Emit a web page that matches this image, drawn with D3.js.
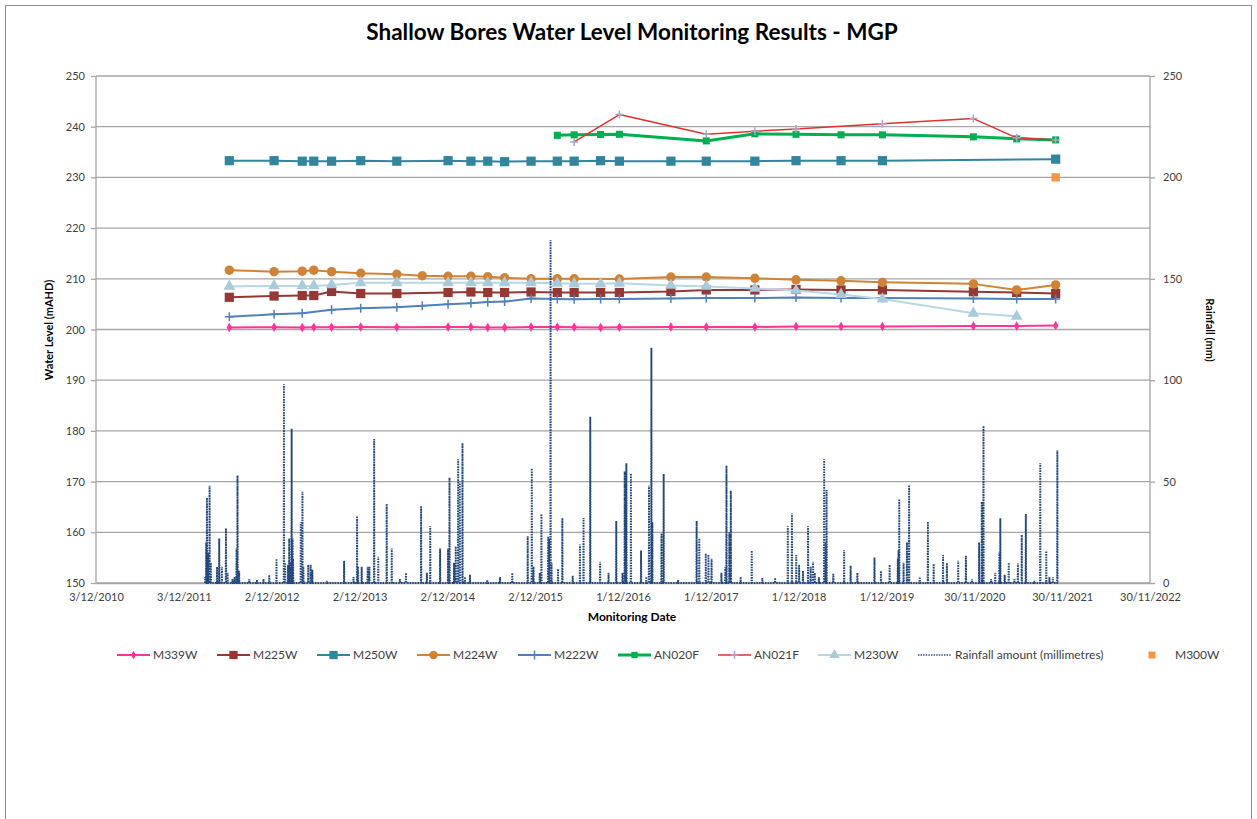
<!DOCTYPE html>
<html><head><meta charset="utf-8">
<script src="https://cdn.jsdelivr.net/npm/d3@7"></script>
<style>body{margin:0;background:#fff;} svg{display:block;font-family:Lato,"Open Sans",sans-serif;}</style>
</head><body><svg id="c" width="1257" height="819"></svg>
<script>
// ---------- DATA ----------
const sampleDates = ["2012-06-09","2012-12-12","2013-04-08","2013-05-26","2013-08-08","2013-12-07","2014-05-06","2014-08-20","2014-12-05","2015-03-10","2015-05-19","2015-07-28","2015-11-15","2016-03-03","2016-05-12","2016-08-30","2016-11-16","2017-06-18","2017-11-12","2018-06-02","2018-11-20","2019-05-26","2019-11-14","2020-11-26","2021-05-25","2021-11-03"];
const M339W = [200.4,200.45,200.4,200.45,200.45,200.5,200.45,null,200.5,200.5,200.4,200.4,200.5,200.5,200.45,200.4,200.45,200.5,200.5,200.5,200.6,200.6,200.6,200.7,200.7,200.8];
const M225W = [206.35,206.6,206.7,206.7,207.5,207.1,207.1,null,207.3,207.4,207.3,207.3,207.4,207.3,207.3,207.3,207.3,207.5,207.8,207.8,207.9,207.8,207.8,207.45,207.3,207.1];
const M250W = [233.3,233.3,233.2,233.2,233.2,233.3,233.2,null,233.3,233.2,233.2,233.1,233.2,233.2,233.2,233.3,233.2,233.2,233.2,233.2,233.3,233.3,233.3,null,null,233.6];
const M224W = [211.7,211.4,211.5,211.7,211.4,211.1,210.9,210.6,210.5,210.5,210.4,210.2,210.0,210.0,210.0,null,209.95,210.35,210.35,210.1,209.8,209.6,209.3,209.0,207.8,208.8];
const M222W = [202.5,203.0,203.2,null,203.9,204.2,204.4,204.7,205.0,205.2,205.4,205.5,206.1,206.0,205.95,206.0,206.0,206.1,206.2,206.2,206.3,206.2,206.2,206.1,206.0,206.0];
const AN020F = [null,null,null,null,null,null,null,null,null,null,null,null,null,238.3,238.4,238.45,238.5,null,237.2,238.6,238.5,238.4,238.4,238.0,237.6,237.4];
const AN021F = [null,null,null,null,null,null,null,null,null,null,null,null,null,null,237.0,null,242.4,null,238.5,239.1,239.55,null,240.6,241.6,237.8,237.4];
const M230W = [208.5,208.6,208.6,208.6,208.8,209.2,209.2,null,209.2,209.2,209.2,209.2,209.2,209.1,209.0,209.0,209.1,208.7,208.5,208.1,207.7,206.9,206.0,203.2,202.6,null];
const M300W = [null,null,null,null,null,null,null,null,null,null,null,null,null,null,null,null,null,null,null,null,null,null,null,null,null,230.0];

// rainfall events (date, mm); other days are 0
const rainDates = ["2012-03-01","2012-03-05","2012-03-08","2012-03-12","2012-03-19","2012-03-24","2012-04-19","2012-04-28","2012-05-09","2012-05-26","2012-06-02","2012-06-22","2012-07-01","2012-07-09","2012-07-13","2012-07-20","2012-08-31","2012-10-02","2012-10-29","2012-11-22","2012-12-22","2013-01-22","2013-01-27","2013-02-08","2013-02-13","2013-02-17","2013-02-23","2013-02-27","2013-03-01","2013-04-02","2013-04-09","2013-04-13","2013-05-03","2013-05-13","2013-05-20","2013-07-19","2013-09-29","2013-11-07","2013-11-22","2013-11-26","2013-12-11","2014-01-05","2014-01-12","2014-02-01","2014-02-18","2014-03-25","2014-04-15","2014-05-19","2014-06-13","2014-08-15","2014-09-08","2014-09-22","2014-11-02","2014-12-05","2014-12-11","2014-12-30","2015-01-06","2015-01-16","2015-01-23","2015-02-03","2015-02-13","2015-03-06","2015-05-17","2015-07-09","2015-08-29","2015-11-01","2015-11-18","2015-11-25","2015-12-21","2015-12-28","2016-01-25","2016-01-29","2016-02-04","2016-02-08","2016-03-06","2016-03-24","2016-05-06","2016-06-05","2016-06-20","2016-07-18","2016-08-28","2016-10-02","2016-11-03","2016-11-29","2016-12-08","2016-12-12","2016-12-15","2017-01-03","2017-02-14","2017-03-08","2017-03-19","2017-03-29","2017-04-02","2017-05-10","2017-05-19","2017-07-18","2017-10-03","2017-10-14","2017-11-10","2017-11-21","2017-12-04","2018-01-14","2018-01-30","2018-02-04","2018-02-16","2018-02-22","2018-04-04","2018-05-20","2018-07-03","2018-08-25","2018-10-17","2018-11-03","2018-11-21","2018-12-03","2018-12-19","2019-01-09","2019-01-20","2019-01-30","2019-02-06","2019-02-23","2019-03-17","2019-03-23","2019-03-27","2019-04-24","2019-06-08","2019-07-05","2019-08-02","2019-10-12","2019-11-08","2019-12-14","2020-01-17","2020-01-20","2020-01-23","2020-02-10","2020-02-24","2020-03-04","2020-04-17","2020-05-21","2020-06-14","2020-07-23","2020-08-08","2020-09-24","2020-10-26","2020-11-20","2020-12-20","2020-12-31","2021-01-07","2021-02-08","2021-02-25","2021-03-14","2021-03-18","2021-04-05","2021-04-22","2021-05-16","2021-05-30","2021-06-15","2021-07-02","2021-08-07","2021-08-31","2021-09-25","2021-10-08","2021-10-22","2021-11-10"];
const rainMM = [3,20,42,15,48,10,8,22,8,27,5,2,3,17,53,6,2,1.5,2,4,12,98,10,9,22,10,76,22,12,30,45,8,9,9,6.5,1,11,3,33,8,8,8,8,71,13,39,17,2,5,38,5,28,17,17,52,10,18,61,50,69,3,4,1.5,3,5,23,56.5,8,5,34,23,22,169,10,7,32,3.5,19,32,82,10.5,5,30.6,5,55,40,59,54,16,3,48,116,30,24.5,53.7,1.5,30.6,22,14.6,14,12,5,7.7,57.8,25,45.5,3,16,2.5,2.5,28,34.3,13.8,9,6,28,8,10.5,5,3,61,20,45.9,4.5,16.3,8.5,5,12.6,6,9,12,16,41.4,10,20,48.3,3,30.3,9.4,13.8,9.8,11,13.4,2,20,40,77.4,2,5,15,31.9,4,10,2,9.6,23.7,34,1,59,15.8,3,3,65.3];

const leftTicks = [150,160,170,180,190,200,210,220,230,240,250];
const rightTicks = [0,50,100,150,200,250];
const axisStart = "2010-12-03", axisEnd = "2022-11-30";

// ---------- CHART ----------
const parse = d3.timeParse("%Y-%m-%d");
const svg = d3.select("#c");
const plot = {l:96, r:1150, t:76, b:583};

svg.append("rect").attr("x",5.5).attr("y",5.5).attr("width",1246).attr("height",840)
  .attr("fill","#fff").attr("stroke","#8c8c8c").attr("stroke-width",1);

const x = d3.scaleTime().domain([parse(axisStart), parse(axisEnd)]).range([plot.l, plot.r]);
const yL = d3.scaleLinear().domain([150,250]).range([plot.b, plot.t]);
const yR = d3.scaleLinear().domain([0,250]).range([plot.b, plot.t]);

const xTicks = d3.range(13).map(k => d3.timeDay.offset(parse(axisStart), 365*k));
const fmt = d3.timeFormat("%-d/%-m/%Y");

// gridlines
svg.append("g").selectAll("line").data(leftTicks).join("line")
  .attr("x1",plot.l).attr("x2",plot.r).attr("y1",d=>yL(d)).attr("y2",d=>yL(d))
  .attr("stroke","#a6a6a6").attr("stroke-width",1.3);

const gL = svg.append("g").attr("transform",`translate(${plot.l},0)`)
  .call(d3.axisLeft(yL).tickValues(leftTicks).tickSize(5).tickPadding(6));
const gR = svg.append("g").attr("transform",`translate(${plot.r},0)`)
  .call(d3.axisRight(yR).tickValues(rightTicks).tickSize(5).tickPadding(8));
const gB = svg.append("g").attr("transform",`translate(0,${plot.b})`)
  .call(d3.axisBottom(x).tickValues(xTicks).tickFormat(fmt).tickSize(0).tickPadding(10));
[gL,gR,gB].forEach(g=>{
  g.select(".domain").attr("stroke","#a6a6a6").attr("stroke-width",1.3);
  g.selectAll(".tick line").attr("stroke","#a6a6a6").attr("stroke-width",1.3);
  g.selectAll("text").attr("fill","#404040").style("font-size","11px").style("font-family","Lato");
});
gL.select(".domain").attr("d",`M0,${plot.b}V${plot.t}`);
gR.select(".domain").attr("d",`M0,${plot.b}V${plot.t}`);

// titles
svg.append("text").attr("x",632).attr("y",40).attr("text-anchor","middle")
  .style("font-size","22.5px").style("font-weight","bold").attr("fill","#000")
  .text("Shallow Bores Water Level Monitoring Results - MGP");
svg.append("text").attr("transform","translate(53,330) rotate(-90)").attr("text-anchor","middle")
  .style("font-size","11px").style("font-weight","bold").attr("fill","#000").text("Water Level (mAHD)");
svg.append("text").attr("transform","translate(1206,330) rotate(90)").attr("text-anchor","middle")
  .style("font-size","11px").style("font-weight","bold").attr("fill","#000").text("Rainfall (mm)");
svg.append("text").attr("x",632).attr("y",621).attr("text-anchor","middle")
  .style("font-size","12px").style("font-weight","bold").attr("fill","#000").text("Monitoring Date");

function marker(g, type, size, fill, stroke){
  if(type==="plus"){
    const s=size;
    return g.append("path").attr("d",`M${-s},0H${s}M0,${-s}V${s}`).attr("stroke",stroke).attr("stroke-width",1.5).attr("fill","none");
  }
  const st = {square:d3.symbolSquare, diamond:d3.symbolDiamond, circle:d3.symbolCircle, triangle:d3.symbolTriangle}[type];
  return g.append("path").attr("d",d3.symbol(st, size)()).attr("fill",fill).attr("stroke",stroke||"none");
}

const series = [
  {name:"M339W", vals:M339W, color:"#ff3399", w:2, m:"diamond", ms:26, mf:"#ff3399"},
  {name:"M225W", vals:M225W, color:"#953735", w:2, m:"square", ms:85, mf:"#953735"},
  {name:"M250W", vals:M250W, color:"#31859c", w:2, m:"square", ms:85, mf:"#31859c"},
  {name:"M224W", vals:M224W, color:"#d08337", w:2, m:"circle", ms:70, mf:"#d08337"},
  {name:"M222W", vals:M222W, color:"#4f81bd", w:2, m:"plus", ms:4.5, mf:"#4f81bd"},
  {name:"AN020F", vals:AN020F, color:"#00b050", w:3, m:"square", ms:50, mf:"#00b050"},
  {name:"AN021F", vals:AN021F, color:"#e0312f", w:1.5, m:"plus", ms:4, mf:"#b3a2c7"},
  {name:"M230W", vals:M230W, color:"#b7d7e4", w:2, m:"triangle", ms:60, mf:"#a9cbd9"}
];

const line = d3.line().x(d=>x(d.d)).y(d=>yL(d.v));
series.forEach(s=>{
  const pts = sampleDates.map((d,i)=>({d:parse(d), v:s.vals[i]})).filter(p=>p.v!=null);
  const g = svg.append("g");
  g.append("path").datum(pts).attr("d",line).attr("fill","none").attr("stroke",s.color).attr("stroke-width",s.w).attr("stroke-linejoin","round");
  pts.forEach(p=>{
    const mg = g.append("g").attr("transform",`translate(${x(p.d)},${yL(p.v)})`);
    marker(mg, s.m, s.ms, s.mf, s.m==="plus"?s.mf:null);
  });
});

// rainfall line (secondary axis)
const rainEv = rainDates.map((d,i)=>({d:parse(d), v:rainMM[i]})).sort((a,b)=>a.d-b.d);
const rainPts = [];
rainEv.forEach(e=>{
  rainPts.push({d:d3.timeDay.offset(e.d,-1), v:0});
  rainPts.push({d:e.d, v:e.v});
  rainPts.push({d:d3.timeDay.offset(e.d,1), v:0});
});
const rline = d3.line().x(d=>x(d.d)).y(d=>yR(d.v));
svg.append("path").datum(rainPts).attr("d",rline).attr("fill","none")
  .attr("stroke","#23477f").attr("stroke-width",1.9).attr("stroke-dasharray","1.5 1.1");

// M300W single marker
sampleDates.map((d,i)=>({d:parse(d), v:M300W[i]})).filter(p=>p.v!=null).forEach(p=>{
  const mg = svg.append("g").attr("transform",`translate(${x(p.d)},${yL(p.v)})`);
  marker(mg,"square",70,"#f79646");
});

// legend
const legY = 655;
const legX = [117,217,317,417,518,618,718,818];
const lg = svg.append("g");
series.forEach((s,i)=>{
  const gx = legX[i];
  lg.append("line").attr("x1",gx).attr("x2",gx+33).attr("y1",legY).attr("y2",legY).attr("stroke",s.color).attr("stroke-width",s.w);
  const mg = lg.append("g").attr("transform",`translate(${gx+16.5},${legY})`);
  marker(mg, s.m, s.m==="plus"?s.ms:s.ms*0.8, s.mf, s.m==="plus"?s.mf:null);
  lg.append("text").attr("x",gx+36).attr("y",legY+4).style("font-size","12px").attr("fill","#404040").text(s.name);
});
lg.append("line").attr("x1",918).attr("x2",951).attr("y1",legY).attr("y2",legY).attr("stroke","#23477f").attr("stroke-width",1.4).attr("stroke-dasharray","1.4 1.2");
lg.append("text").attr("x",955).attr("y",legY+4).style("font-size","12px").attr("fill","#404040").text("Rainfall amount (millimetres)");
const mg3 = lg.append("g").attr("transform",`translate(1152,${legY})`);
marker(mg3,"square",50,"#f79646");
lg.append("text").attr("x",1175).attr("y",legY+4).style("font-size","12px").attr("fill","#404040").text("M300W");
</script></body></html>
